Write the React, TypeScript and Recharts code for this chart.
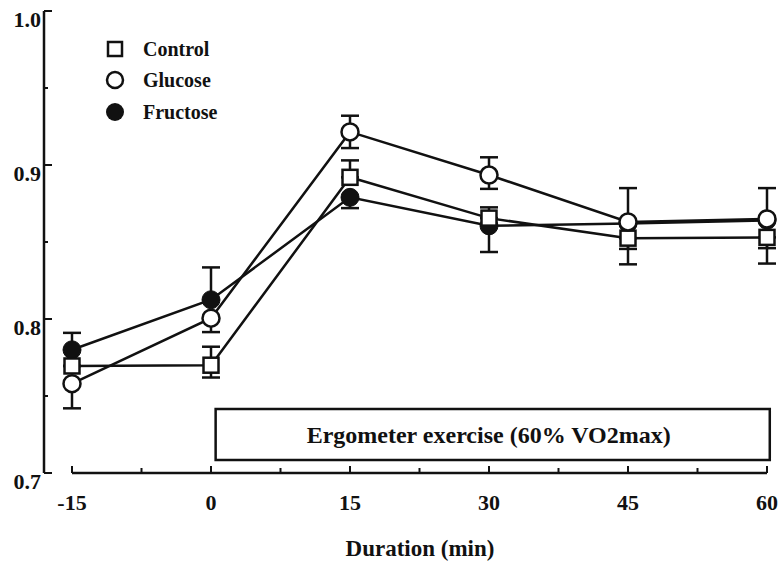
import React from 'react';
import { LineChart, Line, XAxis, YAxis, ErrorBar, ReferenceArea, ReferenceLine, Legend, Label } from 'recharts';

const minutes = [-15, 0, 15, 30, 45, 60];
const controlMean = [0.7695, 0.770, 0.892, 0.8655, 0.8525, 0.853];
const controlErrLow = [0, 0.008, 0, 0, 0.017, 0.017];
const controlErrHigh = [0, 0.012, 0.011, 0.007, 0, 0];
const glucoseMean = [0.758, 0.8005, 0.9215, 0.8935, 0.863, 0.865];
const glucoseErrLow = [0.016, 0.009, 0.0105, 0.009, 0.0175, 0.019];
const glucoseErrHigh = [0, 0, 0.0105, 0.0115, 0.022, 0.020];
const fructoseMean = [0.780, 0.8125, 0.879, 0.8605, 0.862, 0.864];
const fructoseErrLow = [0, 0, 0.007, 0.017, 0, 0];
const fructoseErrHigh = [0.011, 0.021, 0, 0, 0, 0];

const xTicks = [-15, -7.5, 0, 7.5, 15, 22.5, 30, 37.5, 45, 52.5, 60];
const yTicks = [0.7, 0.75, 0.8, 0.85, 0.9, 0.95, 1.0];
const exerciseLabel = 'Ergometer exercise (60% VO2max)';
const exerciseStart = 0.5;
const exerciseEnd = 60.3;
const exerciseLow = 0.7084;
const exerciseHigh = 0.7416;
const seriesNames = ['Control', 'Glucose', 'Fructose'];

const data = minutes.map((t, i) => ({
  t,
  control: controlMean[i],
  controlErr: [controlErrLow[i], controlErrHigh[i]],
  glucose: glucoseMean[i],
  glucoseErr: [glucoseErrLow[i], glucoseErrHigh[i]],
  fructose: fructoseMean[i],
  fructoseErr: [fructoseErrLow[i], fructoseErrHigh[i]],
}));

const FONT = '"Liberation Serif", "Times New Roman", serif';
const INK = '#111';

const XTick = (props: any) => {
  const { x, y, payload } = props;
  const v = payload.value;
  const major = Math.abs(v % 15) < 1e-6;
  return (
    <g>
      <line x1={x} x2={x} y1={y} y2={y - (major ? 7 : 5)} stroke={INK} strokeWidth={2} />
      {major && (
        <text x={x} y={y + 37} textAnchor="middle" fontFamily={FONT} fontWeight="bold" fontSize={22} fill={INK}>
          {v}
        </text>
      )}
    </g>
  );
};

const YTick = (props: any) => {
  const { x, y, payload } = props;
  const v = payload.value;
  const major = Math.abs(v * 10 - Math.round(v * 10)) < 1e-6;
  return (
    <g>
      <line x1={x} x2={x + (major ? 8 : 4)} y1={y} y2={y} stroke={INK} strokeWidth={2} />
      {major && (
        <text x={x - 3} y={y + 16} textAnchor="end" fontFamily={FONT} fontWeight="bold" fontSize={22} fill={INK}>
          {v.toFixed(1)}
        </text>
      )}
    </g>
  );
};

const SquareDot = (props: any) => {
  const { cx, cy, index } = props;
  return <rect key={`sq-${index}`} x={cx - 7.5} y={cy - 7.5} width={15} height={15} fill="#fff" stroke={INK} strokeWidth={2.5} />;
};
const OpenDot = (props: any) => {
  const { cx, cy, index } = props;
  return <circle key={`oc-${index}`} cx={cx} cy={cy} r={8.5} fill="#fff" stroke={INK} strokeWidth={2.5} />;
};
const FilledDot = (props: any) => {
  const { cx, cy, index } = props;
  return <circle key={`fc-${index}`} cx={cx} cy={cy} r={9} fill={INK} stroke={INK} strokeWidth={1} />;
};

const legendIcons = [
  <rect x={3} y={3} width={14} height={14} fill="#fff" stroke={INK} strokeWidth={2.5} />,
  <circle cx={10} cy={10} r={8} fill="#fff" stroke={INK} strokeWidth={2.5} />,
  <circle cx={10} cy={10} r={9} fill={INK} />,
];

const LegendContent = () => (
  <div style={{ fontFamily: FONT, fontWeight: 'bold', fontSize: 20, color: INK }}>
    {seriesNames.map((name, i) => (
      <div key={name} style={{ display: 'flex', alignItems: 'center', height: 31.5 }}>
        <svg width={20} height={20} style={{ display: 'block' }}>{legendIcons[i]}</svg>
        <span style={{ marginLeft: 18, lineHeight: '20px' }}>{name}</span>
      </div>
    ))}
  </div>
);

export default function App() {
  return (
    <div style={{ position: 'absolute', left: 0, top: 0, width: 783, height: 561, background: '#fff' }}>
      <LineChart width={783} height={561} data={data} margin={{ top: 11, right: 13, bottom: 0, left: 0 }}>
        <XAxis
          dataKey="t"
          type="number"
          domain={[-15, 60]}
          ticks={xTicks}
          interval={0}
          axisLine={false}
          tickLine={false}
          tickSize={0}
          tickMargin={0}
          tick={XTick}
          padding={{ left: 28, right: 3 }}
          height={88}
        >
          <Label value="Duration (min)" position="insideBottom" offset={5} dx={13} fill={INK} fontFamily={FONT} fontWeight="bold" fontSize={23} />
        </XAxis>
        <YAxis
          type="number"
          domain={[0.7, 1.0]}
          ticks={yTicks}
          interval={0}
          width={44}
          axisLine={{ stroke: INK, strokeWidth: 2.5 }}
          tickLine={false}
          tickSize={0}
          tickMargin={0}
          tick={YTick}
        />
        <ReferenceLine
          segment={[{ x: -15, y: 0.7 }, { x: 60, y: 0.7 }]}
          stroke={INK}
          strokeWidth={2.5}
          ifOverflow="visible"
        />
        <ReferenceArea
          x1={exerciseStart}
          x2={exerciseEnd}
          y1={exerciseLow}
          y2={exerciseHigh}
          fill="#fff"
          fillOpacity={1}
          stroke={INK}
          strokeWidth={2.5}
          ifOverflow="visible"
        >
          <Label value={exerciseLabel} position="center" dx={-4} fill={INK} fontFamily={FONT} fontWeight="bold" fontSize={24} />
        </ReferenceArea>
        <Legend
          layout="vertical"
          align="center"
          verticalAlign="middle"
          content={LegendContent}
          wrapperStyle={{ left: 105, top: 33, width: 'auto' }}
        />
        <Line dataKey="fructose" stroke={INK} strokeWidth={2.5} dot={FilledDot} isAnimationActive={false} legendType="none">
          <ErrorBar dataKey="fructoseErr" width={9} stroke={INK} strokeWidth={2.5} direction="y" />
        </Line>
        <Line dataKey="control" stroke={INK} strokeWidth={2.5} dot={SquareDot} isAnimationActive={false} legendType="none">
          <ErrorBar dataKey="controlErr" width={9} stroke={INK} strokeWidth={2.5} direction="y" />
        </Line>
        <Line dataKey="glucose" stroke={INK} strokeWidth={2.5} dot={OpenDot} isAnimationActive={false} legendType="none">
          <ErrorBar dataKey="glucoseErr" width={9} stroke={INK} strokeWidth={2.5} direction="y" />
        </Line>
      </LineChart>
    </div>
  );
}
